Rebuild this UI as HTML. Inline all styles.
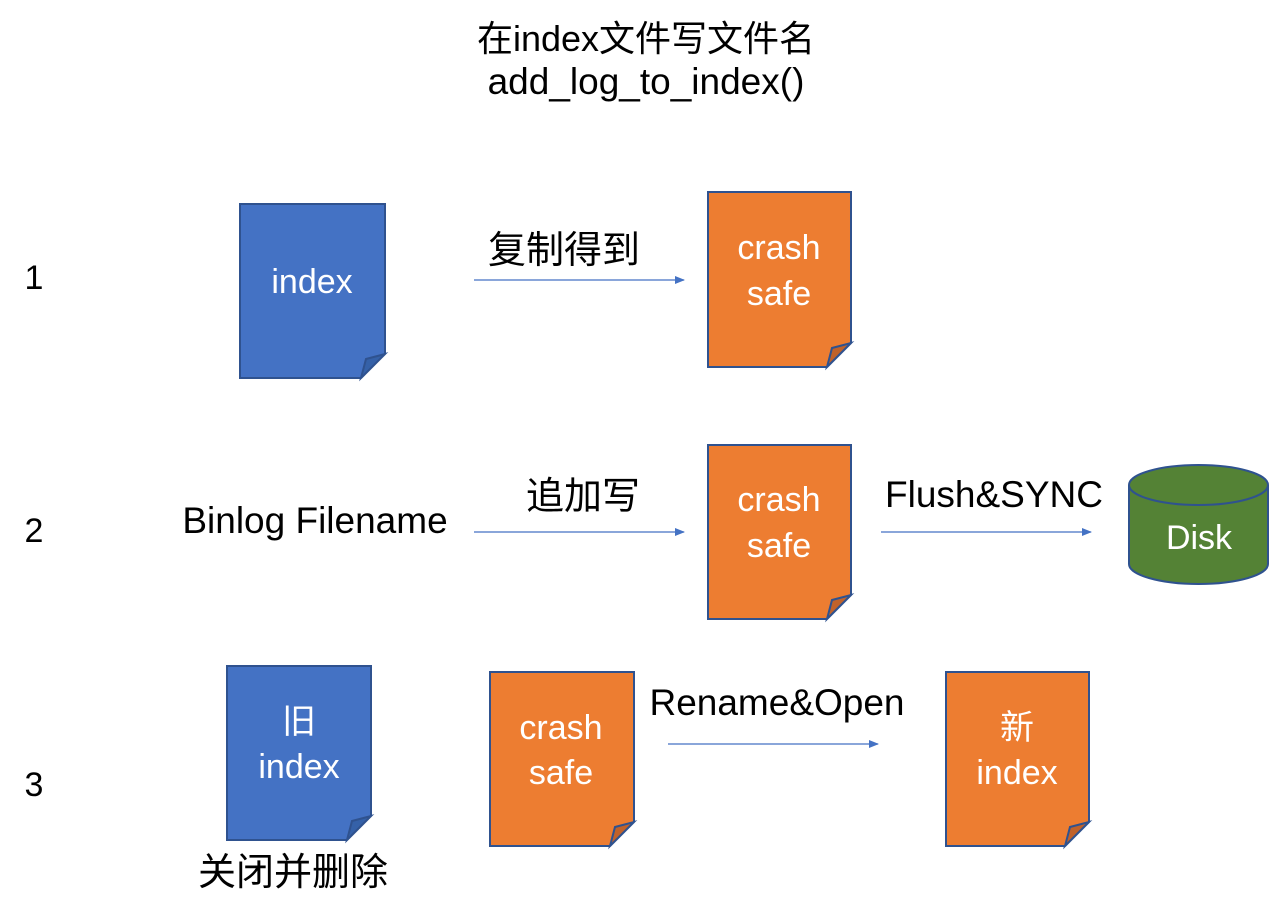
<!DOCTYPE html>
<html><head><meta charset="utf-8"><style>body{margin:0;background:#fff}svg{display:block}</style></head>
<body>
<svg width="1270" height="916" viewBox="0 0 1270 916" xmlns="http://www.w3.org/2000/svg" font-family="Liberation Sans, Noto Sans CJK SC, sans-serif">
<defs><marker id="a" markerWidth="10" markerHeight="8" refX="9" refY="4" orient="auto" markerUnits="userSpaceOnUse"><path d="M0,0 L10,4 L0,8 Z" fill="#4472c4"/></marker></defs>
<g font-size="37" fill="#000" text-anchor="middle">
<text x="646" y="51" font-size="36">在index文件写文件名</text>
<text x="646" y="94">add_log_to_index()</text>
<text x="34" y="289" font-size="34">1</text><text x="34" y="542" font-size="34">2</text><text x="34" y="796" font-size="34">3</text>
<text x="564" y="263" font-size="38">复制得到</text>
<text x="315" y="533">Binlog Filename</text>
<text x="583" y="509" font-size="38">追加写</text>
<text x="994" y="507">Flush&amp;SYNC</text>
<text x="777" y="715">Rename&amp;Open</text>
<text x="293" y="885" font-size="38">关闭并删除</text>
</g>
<g stroke="#4472c4" stroke-width="1.3" marker-end="url(#a)">
<line x1="474" y1="280" x2="684" y2="280"/><line x1="474" y1="532" x2="684" y2="532"/>
<line x1="881" y1="532" x2="1091" y2="532"/><line x1="668" y1="744" x2="878" y2="744"/>
</g>
<g stroke="#2f528f" stroke-width="2">
<path d="M240,204 H385 V354 L361,378 H240 Z" fill="#4472c4"/><path d="M361,378 L366,359 L385,354 Z" fill="#3561a8"/>
<path d="M708,192 H851 V343 L827,367 H708 Z" fill="#ed7d31"/><path d="M827,367 L832,348 L851,343 Z" fill="#c0622a"/>
<path d="M708,445 H851 V595 L827,619 H708 Z" fill="#ed7d31"/><path d="M827,619 L832,600 L851,595 Z" fill="#c0622a"/>
<path d="M227,666 H371 V816 L347,840 H227 Z" fill="#4472c4"/><path d="M347,840 L352,821 L371,816 Z" fill="#3561a8"/>
<path d="M490,672 H634 V822 L610,846 H490 Z" fill="#ed7d31"/><path d="M610,846 L615,827 L634,822 Z" fill="#c0622a"/>
<path d="M946,672 H1089 V822 L1065,846 H946 Z" fill="#ed7d31"/><path d="M1065,846 L1070,827 L1089,822 Z" fill="#c0622a"/>
<path d="M1129,485 V564 A69.5,20 0 0 0 1268,564 V485" fill="#548235"/>
<ellipse cx="1198.5" cy="485" rx="69.5" ry="20" fill="#548235"/>
</g>
<g font-size="34" fill="#fff" text-anchor="middle">
<text x="779" y="259">crash</text><text x="779" y="305">safe</text>
<text x="312" y="293">index</text>
<text x="779" y="511">crash</text><text x="779" y="557">safe</text>
<text x="299" y="733">旧</text><text x="299" y="778">index</text>
<text x="561" y="739">crash</text><text x="561" y="784">safe</text>
<text x="1017" y="739">新</text><text x="1017" y="784">index</text>
<text x="1199" y="549">Disk</text>
</g>
</svg>
</body></html>
